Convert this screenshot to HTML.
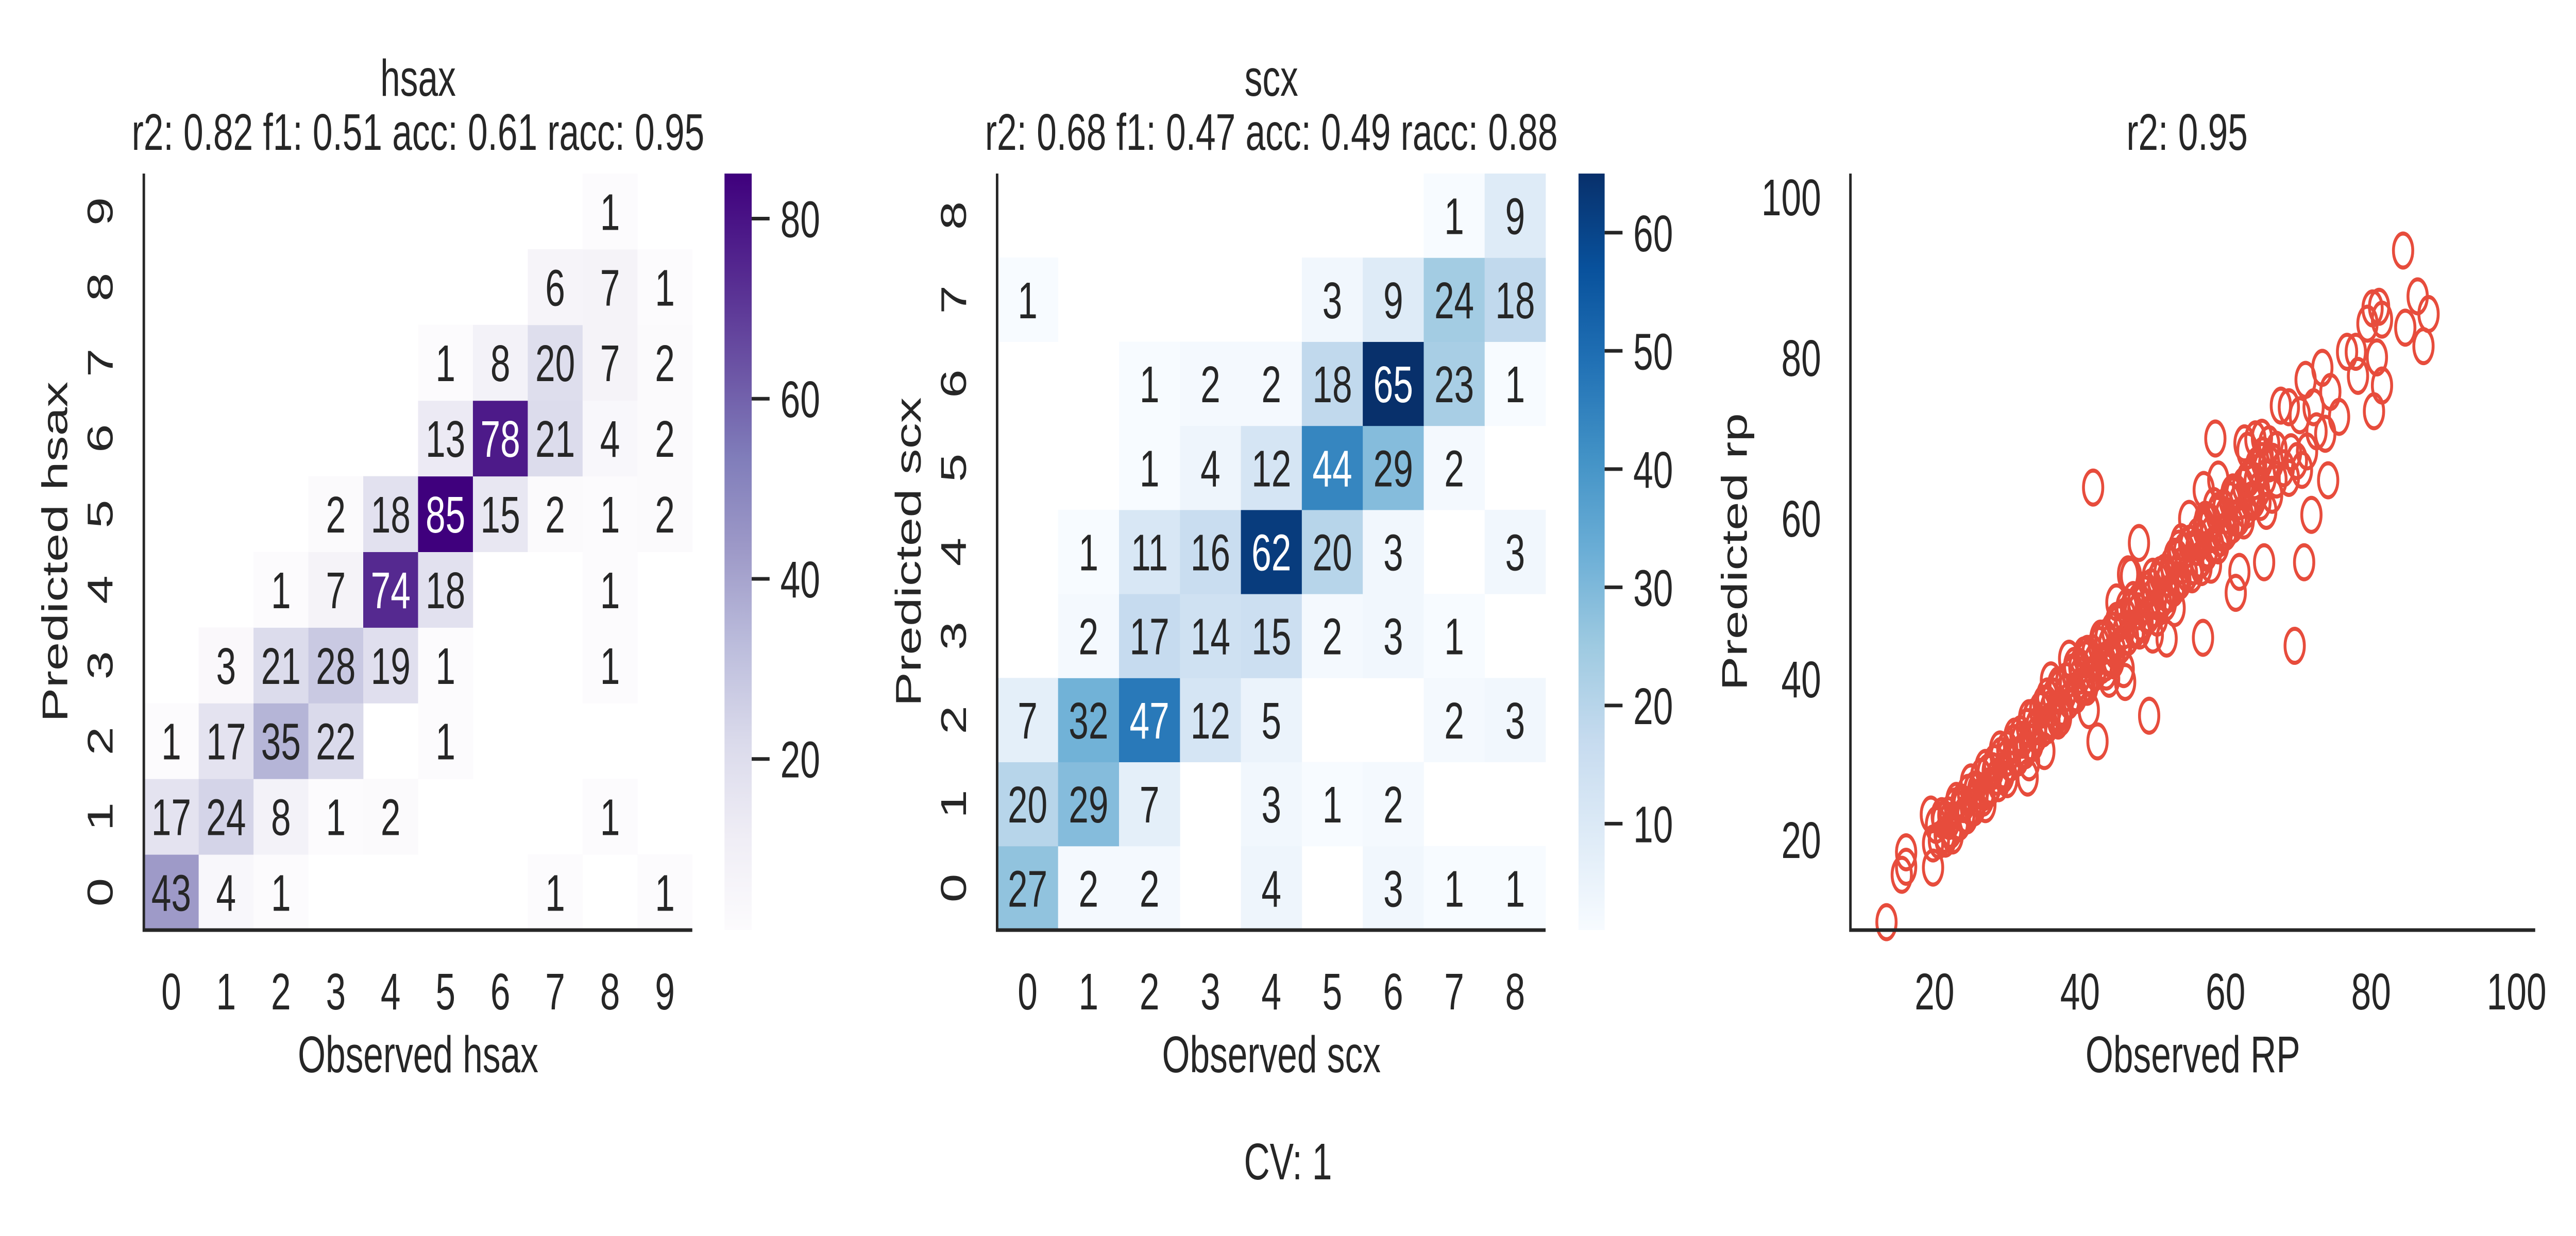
<!DOCTYPE html>
<html><head><meta charset="utf-8">
<style>
html,body{margin:0;padding:0;background:#fff;width:100%;height:100%;overflow:hidden;}
svg{display:block;width:100vw;height:100vh;}
text{font-family:"Liberation Sans",Arial,sans-serif;fill:#262626;}
</style></head>
<body>
<svg id="fig" xmlns="http://www.w3.org/2000/svg" viewBox="0 0 7200 2400" preserveAspectRatio="none">
<defs>
<linearGradient id="gPurples" x1="0" y1="1" x2="0" y2="0">
<stop offset="0" stop-color="#fcfbfd"/><stop offset="0.125" stop-color="#efedf5"/><stop offset="0.25" stop-color="#dadaeb"/><stop offset="0.375" stop-color="#bcbddc"/><stop offset="0.5" stop-color="#9e9ac8"/><stop offset="0.625" stop-color="#807dba"/><stop offset="0.75" stop-color="#6a51a3"/><stop offset="0.875" stop-color="#54278f"/><stop offset="1" stop-color="#3f007d"/>
</linearGradient>
<linearGradient id="gBlues" x1="0" y1="1" x2="0" y2="0">
<stop offset="0" stop-color="#f7fbff"/><stop offset="0.125" stop-color="#deebf7"/><stop offset="0.25" stop-color="#c6dbef"/><stop offset="0.375" stop-color="#9ecae1"/><stop offset="0.5" stop-color="#6baed6"/><stop offset="0.625" stop-color="#4292c6"/><stop offset="0.75" stop-color="#2171b5"/><stop offset="0.875" stop-color="#08519c"/><stop offset="1" stop-color="#08306b"/>
</linearGradient>
</defs>
<g id="p1"></g>
<g id="p2"></g>
<g id="p3"></g>
<text x="3600" y="2290" font-size="100" text-anchor="middle">CV: 1</text>
</svg>
<script>
// ---- hsax confusion matrix (rows = predicted 0..9, cols = observed 0..9) ----
const hsaxCategories = [0,1,2,3,4,5,6,7,8,9];
const hsaxRow0 = [43,4,1,0,0,0,0,1,0,1];
const hsaxRow1 = [17,24,8,1,2,0,0,0,1,0];
const hsaxRow2 = [1,17,35,22,0,1,0,0,0,0];
const hsaxRow3 = [0,3,21,28,19,1,0,0,1,0];
const hsaxRow4 = [0,0,1,7,74,18,0,0,1,0];
const hsaxRow5 = [0,0,0,2,18,85,15,2,1,2];
const hsaxRow6 = [0,0,0,0,0,13,78,21,4,2];
const hsaxRow7 = [0,0,0,0,0,1,8,20,7,2];
const hsaxRow8 = [0,0,0,0,0,0,0,6,7,1];
const hsaxRow9 = [0,0,0,0,0,0,0,0,1,0];
const hsaxCbarTicks = [20,40,60,80];
// ---- scx confusion matrix ----
const scxCategories = [0,1,2,3,4,5,6,7,8];
const scxRow0 = [27,2,2,0,4,0,3,1,1];
const scxRow1 = [20,29,7,0,3,1,2,0,0];
const scxRow2 = [7,32,47,12,5,0,0,2,3];
const scxRow3 = [0,2,17,14,15,2,3,1,0];
const scxRow4 = [0,1,11,16,62,20,3,0,3];
const scxRow5 = [0,0,1,4,12,44,29,2,0];
const scxRow6 = [0,0,1,2,2,18,65,23,1];
const scxRow7 = [1,0,0,0,0,3,9,24,18];
const scxRow8 = [0,0,0,0,0,0,0,1,9];
const scxCbarTicks = [10,20,30,40,50,60];
// ---- RP scatter ----
const rpTicks = [20,40,60,80,100];
const rpObserved = [13.4,15.5,16.1,16.1,19.8,19.5,19.8,41.8,42.4,49.5,48.1,56.9,58.6,61.4,61.9,65.3,69.5,70.8,71.8,74.1,73.7,80.4,81.5,84.4,84.7,86.4,87.2,87.9,81.1,80.2,81.5,79.5,77.9,76.7,78.2,80.8,75.6,74.4,73.3,71.0,67.6,68.7,70.2,72.1,71.2,69.8,68.7,66.4,65.6,64.1,62.6,46.6,51.9,46.2,41.2,35.1,32.8,26.7,22.5,
20.2,20.6,21.1,21.4,21.9,22.3,22.8,23.2,23.7,24.1,24.6,25.0,25.5,25.9,26.4,26.8,27.3,27.7,28.2,28.6,29.1,29.5,30.0,30.4,30.9,31.3,31.8,32.2,32.7,33.1,33.6,34.0,34.5,34.9,35.4,35.8,36.3,36.7,37.2,37.6,38.1,38.5,39.0,39.4,39.9,40.3,40.8,41.2,41.7,42.1,42.6,43.0,43.5,43.9,44.4,44.8,45.3,45.7,46.2,46.6,47.1,47.5,48.0,48.4,48.9,49.3,49.8,50.2,50.7,51.1,51.6,52.0,52.5,52.9,53.4,53.8,54.3,54.7,55.2,55.6,56.1,56.5,57.0,57.4,57.9,58.3,58.8,59.2,59.7,60.1,60.6,61.0,61.5,61.9,62.4,62.8,63.3,63.7,64.2,64.6,65.1,65.5,
22,24,26,28,30,32,34,36,38,40,42,44,46,48,50,52,54,56,58,60,62,64,66,67,68,36,38.5,45,47,55,57,59,44,50,53,46,58,30,33,27,
35.5,37.4,39.2,41.0,42.8,44.6,46.4,48.2,50.0,51.8,53.6,55.4,57.2,59.0,60.8,37.0,40.5,43.6,47.3,50.6,53.9,56.7,58.4,62.5,64.8,66.0,
21.0,23.0,25.0,27.0,29.0,31.0,33.0,35.0,37.0,39.0,41.0,43.0,45.0,47.0,49.0,51.0,53.0,55.0,57.0,59.0,61.0,63.0,65.0,
21.5,23.5,25.5,27.5,29.5,31.5,33.5,35.5,37.5,39.5,41.5,43.5,45.5,47.5,49.5,51.5,53.5,55.5,57.5,59.5,61.5,63.5,
24.5,28.8,32.5,36.8,40.6,44.2,48.6,52.2,56.6,60.4,64.0,66.5,69.0,70.5,72.5,63.0,65.0,67.0];
const rpPredicted = [9.7,15.6,16.6,18.4,16.5,23.1,19.5,63.8,32.2,35.4,56.9,45.1,69.9,50.7,53.3,54.5,44.1,54.5,60.4,64.7,70.5,73.3,76.5,93.3,83.7,87.6,81.4,85.4,86.3,86.1,84.7,84.2,80.7,80.7,77.7,80.0,72.6,75.7,78.7,77.2,74.0,73.8,72.8,73.8,68.3,67.1,65.0,62.9,60.9,69.8,69.3,53.0,45.0,39.6,36.1,31.0,27.7,25.2,20.5,
21.8,19.9,22.4,20.6,23.0,21.2,24.1,22.0,24.6,23.1,25.8,24.0,26.2,25.1,27.8,25.9,28.3,26.7,29.5,27.8,30.4,28.6,31.2,29.5,32.0,30.2,33.1,31.0,34.0,32.1,35.2,33.0,36.1,33.8,36.9,34.7,37.8,35.6,38.9,36.4,39.7,37.3,40.6,38.2,41.5,39.0,42.4,40.1,43.2,40.8,44.2,41.7,45.1,42.6,46.0,43.5,46.9,44.3,47.8,45.2,48.7,46.1,49.6,47.0,50.5,47.8,51.4,48.7,52.3,49.6,53.2,50.5,54.1,51.3,55.0,52.2,55.9,53.1,56.8,54.0,57.7,54.8,58.6,55.7,59.5,56.6,60.4,57.5,61.3,58.3,62.2,59.2,63.1,60.1,64.0,61.0,65.0,62.0,66.5,63.5,67.8,65.0,
22.3,24.4,26.1,28.5,30.2,32.4,34.1,36.3,38.2,40.4,42.1,44.3,46.0,48.4,50.2,52.5,54.1,56.4,58.0,60.3,62.1,64.6,66.8,68.5,66.2,39.8,42.5,49.5,52.8,59.9,63.5,64.8,40.0,45.5,48.8,41.2,54.2,27.5,29.6,24.4,
37.8,35.2,41.6,39.0,45.0,42.3,48.9,46.0,52.7,49.5,56.2,53.0,59.8,56.6,63.0,34.8,42.9,40.9,49.8,47.6,57.0,53.9,61.5,59.7,62.0,69.2,
22.9,24.8,27.1,28.9,31.2,32.8,35.1,36.9,39.2,40.8,43.1,44.9,47.2,48.8,51.1,52.9,55.2,56.8,59.1,60.9,63.2,64.8,67.1,
20.1,22.2,24.0,26.3,28.1,30.2,32.0,34.2,36.1,38.0,40.2,42.0,44.1,46.3,48.0,50.1,52.2,54.0,56.1,58.2,60.0,62.2,
23.0,27.0,31.1,35.3,39.0,42.8,46.9,50.6,54.8,58.7,62.3,67.0,68.2,66.0,70.8,68.4,70.0,64.8];

const NS='http://www.w3.org/2000/svg';
function mk(parent, tag, attrs, txt){
  const e=document.createElementNS(NS,tag);
  for(const k in attrs) e.setAttribute(k,attrs[k]);
  if(txt!==undefined) e.textContent=txt;
  parent.appendChild(e);
  return e;
}
const PURPLES=['#fcfbfd','#efedf5','#dadaeb','#bcbddc','#9e9ac8','#807dba','#6a51a3','#54278f','#3f007d'];
const BLUES=['#f7fbff','#deebf7','#c6dbef','#9ecae1','#6baed6','#4292c6','#2171b5','#08519c','#08306b'];
function hex(c){return [1,3,5].map(i=>parseInt(c.substr(i,2),16));}
function cmap(stops,t){
  t=Math.max(0,Math.min(1,t));
  const p=t*(stops.length-1), i=Math.min(Math.floor(p),stops.length-2), f=p-i;
  const a=hex(stops[i]), b=hex(stops[i+1]);
  const c=a.map((v,k)=>Math.round(v+(b[k]-v)*f));
  return {css:'rgb('+c.join(',')+')', lum:(0.299*c[0]+0.587*c[1]+0.114*c[2])/255};
}

function heatmap(g, rows, cats, stops, vmin, vmax, L, R, T, B, cbL, cbR, grad, cbTicks, title, name){
  const n=cats.length, cw=(R-L)/n, ch=(B-T)/n;
  const xS=c=>L+c*cw, yS=r=>B-(r+1)*ch;
  rows.forEach((row,r)=>{
    row.forEach((v,c)=>{
      if(v<=0) return;
      const col=cmap(stops,(v-vmin)/(vmax-vmin));
      const rc=mk(g,'rect',{x:xS(c),y:yS(r),width:cw+0.5,height:ch+0.5,fill:col.css});
      
      
      const t=mk(g,'text',{x:xS(c)+cw/2,y:yS(r)+ch/2+36,'font-size':100,'text-anchor':'middle',style:'fill:'+(col.lum<0.55?'#ffffff':'#262626')},String(v));
      
      
    });
  });
  const sp=mk(g,'path',{d:`M${L} ${T} V${B} H${R}`,fill:'none',stroke:'#262626','stroke-width':7});
  
  
  cats.forEach((c,i)=>{
    const xt=mk(g,'text',{x:xS(i)+cw/2,y:1960,'font-size':100,'text-anchor':'middle'},String(c));
    
    
    const cy=B-(i+0.5)*ch, cx=L-123;
    const yt=mk(g,'text',{x:cx,y:cy,'font-size':100,'text-anchor':'middle',transform:`rotate(-90 ${cx} ${cy}) translate(0 36)`},String(c));
    
    
  });
  const xl=mk(g,'text',{x:(L+R)/2,y:2082,'font-size':100,'text-anchor':'middle'},'Observed '+name);
  
  
  const ylx=L-250, yly=(T+B)/2;
  const yl=mk(g,'text',{x:ylx,y:yly,'font-size':100,'text-anchor':'middle',transform:`rotate(-90 ${ylx} ${yly}) translate(0 36)`},'Predicted '+name);
  
  
  const t1=mk(g,'text',{x:(L+R)/2,y:186,'font-size':100,'text-anchor':'middle'},name);
  
  
  const t2=mk(g,'text',{x:(L+R)/2,y:291,'font-size':100,'text-anchor':'middle'},title);
  
  
  const cb=mk(g,'rect',{x:cbL,y:T,width:cbR-cbL,height:B-T,fill:'url(#'+grad+')'});
  
  
  cbTicks.forEach(v=>{
    const y=B-(v-vmin)/(vmax-vmin)*(B-T);
    const tl=mk(g,'line',{x1:cbR,x2:cbR+50,y1:y,y2:y,stroke:'#262626','stroke-width':7});
    
    
    const tt=mk(g,'text',{x:cbR+80,y:y+36,'font-size':100},String(v));
    
    
  });
}

heatmap(document.getElementById('p1'),
  [hsaxRow0,hsaxRow1,hsaxRow2,hsaxRow3,hsaxRow4,hsaxRow5,hsaxRow6,hsaxRow7,hsaxRow8,hsaxRow9],
  hsaxCategories, PURPLES, 1, 85, 402, 1935, 337, 1806, 2025, 2101, 'gPurples', hsaxCbarTicks,
  'r2: 0.82 f1: 0.51 acc: 0.61 racc: 0.95', 'hsax');
heatmap(document.getElementById('p2'),
  [scxRow0,scxRow1,scxRow2,scxRow3,scxRow4,scxRow5,scxRow6,scxRow7,scxRow8],
  scxCategories, BLUES, 1, 65, 2787, 4320, 337, 1806, 4412, 4485, 'gBlues', scxCbarTicks,
  'r2: 0.68 f1: 0.47 acc: 0.49 racc: 0.88', 'scx');

(function(){
  const g=document.getElementById('p3');
  const L=5172,R=7086,T=337,B=1806;
  const xS=v=>5407+(v-20)*(7034-5407)/80;
  const yS=v=>1630-(v-20)*(1630-382)/80;
  rpObserved.forEach((x,i)=>{
    const c=mk(g,'ellipse',{cx:xS(x),cy:yS(rpPredicted[i]),rx:27,ry:33,fill:'none',stroke:'#e74c3c','stroke-width':8});
    
    
  });
  const sp=mk(g,'path',{d:`M${L} ${T} V${B} H${R}`,fill:'none',stroke:'#262626','stroke-width':7});
  
  
  rpTicks.forEach(v=>{
    const xt=mk(g,'text',{x:xS(v),y:1960,'font-size':100,'text-anchor':'middle'},String(v));
    
    
    const yt=mk(g,'text',{x:5090,y:yS(v)+36,'font-size':100,'text-anchor':'end'},String(v));
    
    
  });
  const xl=mk(g,'text',{x:(L+R)/2,y:2082,'font-size':100,'text-anchor':'middle'},'Observed RP');
  
  
  const ylx=4846, yly=(T+B)/2;
  const yl=mk(g,'text',{x:ylx,y:yly,'font-size':100,'text-anchor':'middle',transform:`rotate(-90 ${ylx} ${yly}) translate(0 36)`},'Predicted rp');
  
  
  const t=mk(g,'text',{x:6113,y:291,'font-size':100,'text-anchor':'middle'},'r2: 0.95');
  
  
})();
</script>
</body></html>
